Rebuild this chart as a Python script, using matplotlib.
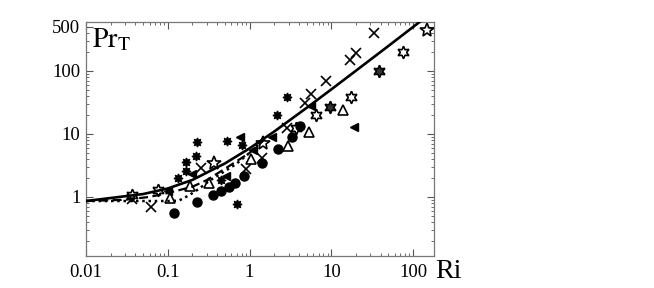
import matplotlib
matplotlib.use("Agg")
from matplotlib import pyplot as plt

plt.rcParams['font.family'] = ['Liberation Serif', 'DejaVu Serif']
plt.rcParams['mathtext.fontset'] = 'stix'

# model curves
ri_solid = [0.01, 0.02, 0.05, 0.1, 0.2, 0.5, 1, 2, 5, 10, 20, 50, 100, 130]
pr_solid = [0.86, 0.96, 1.11, 1.36, 1.86, 3.4, 5.9, 10.9, 26, 51, 101, 250, 500, 650]

ri_dash = [0.01, 0.03, 0.06, 0.1, 0.2, 0.3, 0.5, 1, 1.5]
pr_dash = [0.86, 0.9, 1.0, 1.15, 1.45, 1.85, 2.8, 5.0, 8.0]

ri_dot = [0.01, 0.05, 0.1, 0.136, 0.18, 0.24, 0.32, 0.42, 0.68, 1.0, 1.5]
pr_dot = [0.86, 0.86, 0.86, 0.87, 1.05, 1.34, 1.79, 2.23, 3.3, 5.0, 8.2]

# measurements
ri_cross = [0.037, 0.062, 0.254, 0.91, 1.42, 2.88, 4.8, 5.7, 8.7, 17.1, 20.3, 33.7]
pr_cross = [0.93, 0.69, 2.89, 2.78, 4.16, 12.4, 31, 43, 69, 150, 193, 401]

ri_ast = [0.133, 0.166, 0.166, 0.221, 0.227, 0.53, 0.81, 0.447, 0.70, 2.17, 2.88]
pr_ast = [2.0, 2.59, 3.59, 4.48, 7.46, 7.74, 6.69, 1.86, 0.78, 20, 38.7]

ri_ltri = [0.1, 0.197, 0.515, 0.76, 1.1, 1.89, 5.7, 19.1]
pr_ltri = [1.25, 2.32, 2.15, 8.96, 5.57, 8.96, 27.8, 12.9]

ri_tri = [0.106, 0.186, 0.318, 1.04, 2.97, 5.37, 14.0]
pr_tri = [0.96, 1.5, 1.67, 4.0, 6.45, 10.8, 24]

ri_circ = [0.119, 0.227, 0.356, 0.447, 0.56, 0.66, 0.86, 1.42, 2.24, 3.32, 4.17]
pr_circ = [0.56, 0.83, 1.08, 1.25, 1.44, 1.67, 2.15, 3.46, 5.78, 8.96, 13.4]

ri_hex = [0.037, 0.075, 3.72, 6.5, 17.6, 76]
pr_hex = [1.08, 1.29, 12.4, 20, 38.7, 200]

ri_hexf = [9.7, 37.8]
pr_hexf = [26.8, 100]

ri_star = [0.366, 1.47, 150]
pr_star = [3.46, 7.2, 448]

fig = plt.figure(figsize=(6.54, 2.88), dpi=100)
ax = fig.add_axes([0.1315, 0.111, 0.532, 0.8126])

ax.plot(ri_solid, pr_solid, color="black", lw=1.9, zorder=3)
ax.plot(ri_dash, pr_dash, color="black", lw=1.6, ls=(0, (4, 2)), zorder=3)
ax.plot(ri_dot, pr_dot, color="black", lw=1.8, ls=(0, (1, 1.5)), zorder=3)

ax.plot(ri_cross, pr_cross, ls="none", marker="x", ms=7, mew=1.2, color="black")
ax.plot(ri_ast, pr_ast, ls="none", marker=(8, 1, 0), ms=6.5, color="black")
ax.plot(ri_ltri, pr_ltri, ls="none", marker="<", ms=6, color="black")
ax.plot(ri_tri, pr_tri, ls="none", marker="^", ms=7, mew=1.2, mfc="none", color="black")
ax.plot(ri_circ, pr_circ, ls="none", marker="o", ms=6.5, color="black")
ax.plot(ri_hex, pr_hex, ls="none", marker=(6, 1, 0), ms=9, mew=1.2, mfc="none", color="black")
ax.plot(ri_hexf, pr_hexf, ls="none", marker=(6, 1, 0), ms=9, mew=1.2, mfc="#333333", color="black")
ax.plot(ri_star, pr_star, ls="none", marker="*", ms=10, mew=1.2, mfc="none", color="black")

ax.set_xscale("log")
ax.set_yscale("log")
ax.set_xlim(0.01, 180)
ax.set_ylim(0.115, 600)

ax.set_xticks([0.01, 0.1, 1, 10, 100])
ax.set_xticklabels(["0.01", "0.1", "1", "10", "100"])
ax.set_yticks([1, 10, 100, 500])
ax.set_yticklabels(["1", "10", "100", "500"])

ax.tick_params(which="both", direction="in", top=True, right=True, labelsize=13.5, colors="#555555", labelcolor="black")
ax.tick_params(which="major", length=5, width=0.8)
ax.tick_params(which="minor", length=2.5, width=0.6)
ax.tick_params(axis="x", pad=6)
ax.tick_params(axis="y", pad=4)
for s in ax.spines.values():
    s.set_color("#777777")
    s.set_linewidth(0.9)

ax.text(1.003, -0.094, "Ri", transform=ax.transAxes, fontsize=20, ha="left", va="baseline")
ax.text(0.017, 0.893, r"$\mathrm{Pr}_\mathrm{T}$", transform=ax.transAxes, fontsize=20, ha="left", va="baseline")

plt.savefig("out.png", dpi=100)
